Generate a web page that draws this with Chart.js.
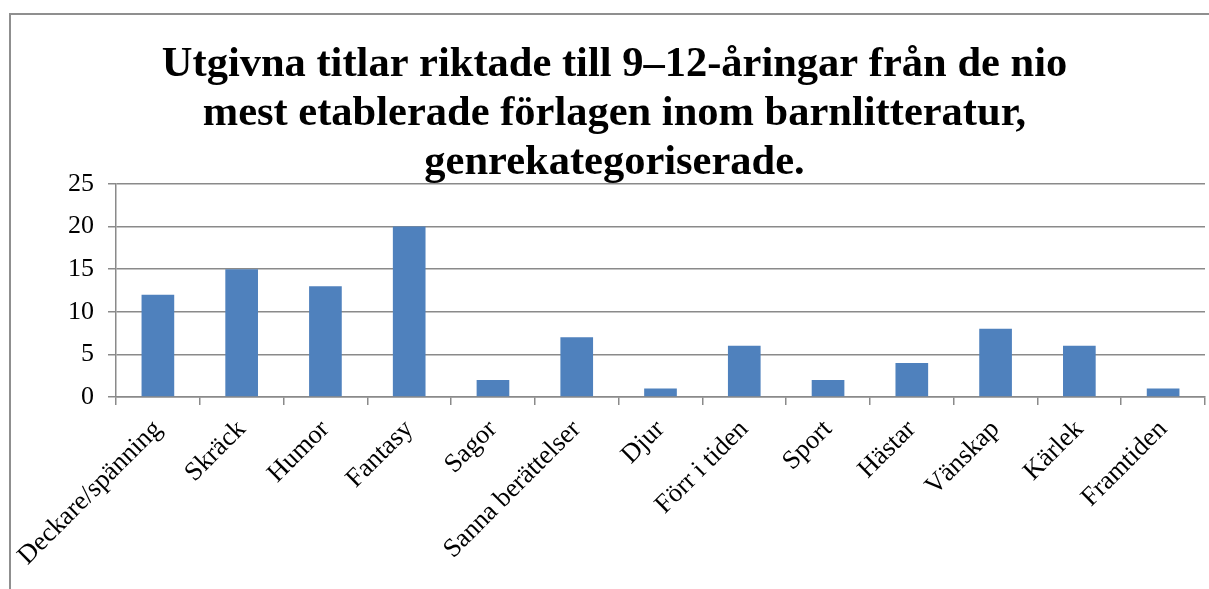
<!DOCTYPE html>
<html lang="sv">
<head>
<meta charset="utf-8">
<title>Utgivna titlar 9–12-åringar</title>
<script src="https://cdn.jsdelivr.net/npm/chart.js@4"></script>
<style>
  html, body { margin: 0; padding: 0; background: #fff; overflow: hidden; }
  /* grey frame around the chart, cut off by the window at right/bottom */
  .frame {
    position: absolute; left: 9px; top: 13px;
    width: 1300px; height: 700px;
    border: 2px solid #8f8f8f;
  }
  .wrap { position: absolute; left: 0; top: 0; width: 1209px; height: 589px; }
</style>
</head>
<body>
<div class="frame"></div>
<div class="wrap"><canvas id="genreChart"></canvas></div>
<script>
/* ---- Data ---- */

const titleLines = [
  "Utgivna titlar riktade till 9–12-åringar från de nio",
  "mest etablerade förlagen inom barnlitteratur,",
  "genrekategoriserade.",
];

const genres = [
  "Deckare/spänning", "Skräck", "Humor", "Fantasy", "Sagor",
  "Sanna berättelser", "Djur", "Förr i tiden", "Sport", "Hästar",
  "Vänskap", "Kärlek", "Framtiden",
];

const titleCounts = [12, 15, 13, 20, 2, 7, 1, 6, 2, 4, 8, 6, 1];

const yTicks = [0, 5, 10, 15, 20, 25];

/* ---- Theme ---- */

const serif = "'Liberation Serif', 'Times New Roman', serif";
const gridGrey = "#8a8a8a";
const barBlue = "#4f81bd";

const ctx = document.getElementById("genreChart");

new Chart(ctx, {
  type: "bar",
  data: {
    labels: genres,
    datasets: [
      {
        data: titleCounts,
        backgroundColor: barBlue,
        borderWidth: 0,
        categoryPercentage: 1,
        barPercentage: 0.39,
      },
    ],
  },
  options: {
    responsive: true,
    maintainAspectRatio: false,
    animation: false,
    layout: { padding: { left: 24, right: 4, top: 0, bottom: 0 } },
    plugins: {
      legend: { display: false },
      tooltip: { enabled: false },
      title: {
        display: true,
        text: titleLines,
        color: "#000",
        font: { family: serif, size: 42.5, weight: "bold", lineHeight: 1.16 },
        padding: { top: 40, bottom: -4 },
      },
    },
    scales: {
      x: {
        grid: {
          offset: true,
          drawOnChartArea: false,
          drawTicks: true,
          tickLength: 8,
          color: gridGrey,
          lineWidth: 1.5,
        },
        border: { color: gridGrey, width: 1.5 },
        ticks: {
          color: "#000",
          autoSkip: false,
          maxRotation: 45,
          minRotation: 45,
          padding: 9,
          font: { family: serif, size: 26.5 },
        },
        afterFit: (scale) => { scale.height = 192; },
      },
      y: {
        min: yTicks[0],
        max: yTicks[yTicks.length - 1],
        afterBuildTicks: (scale) => {
          scale.ticks = yTicks.map((v) => ({ value: v }));
        },
        grid: { color: gridGrey, lineWidth: 1.5, tickLength: 8 },
        border: { color: gridGrey, width: 1.5 },
        ticks: {
          color: "#000",
          padding: 14,
          font: { family: serif, size: 26 },
        },
        afterFit: (scale) => { scale.width = 92; },
      },
    },
  },
});
</script>
</body>
</html>
